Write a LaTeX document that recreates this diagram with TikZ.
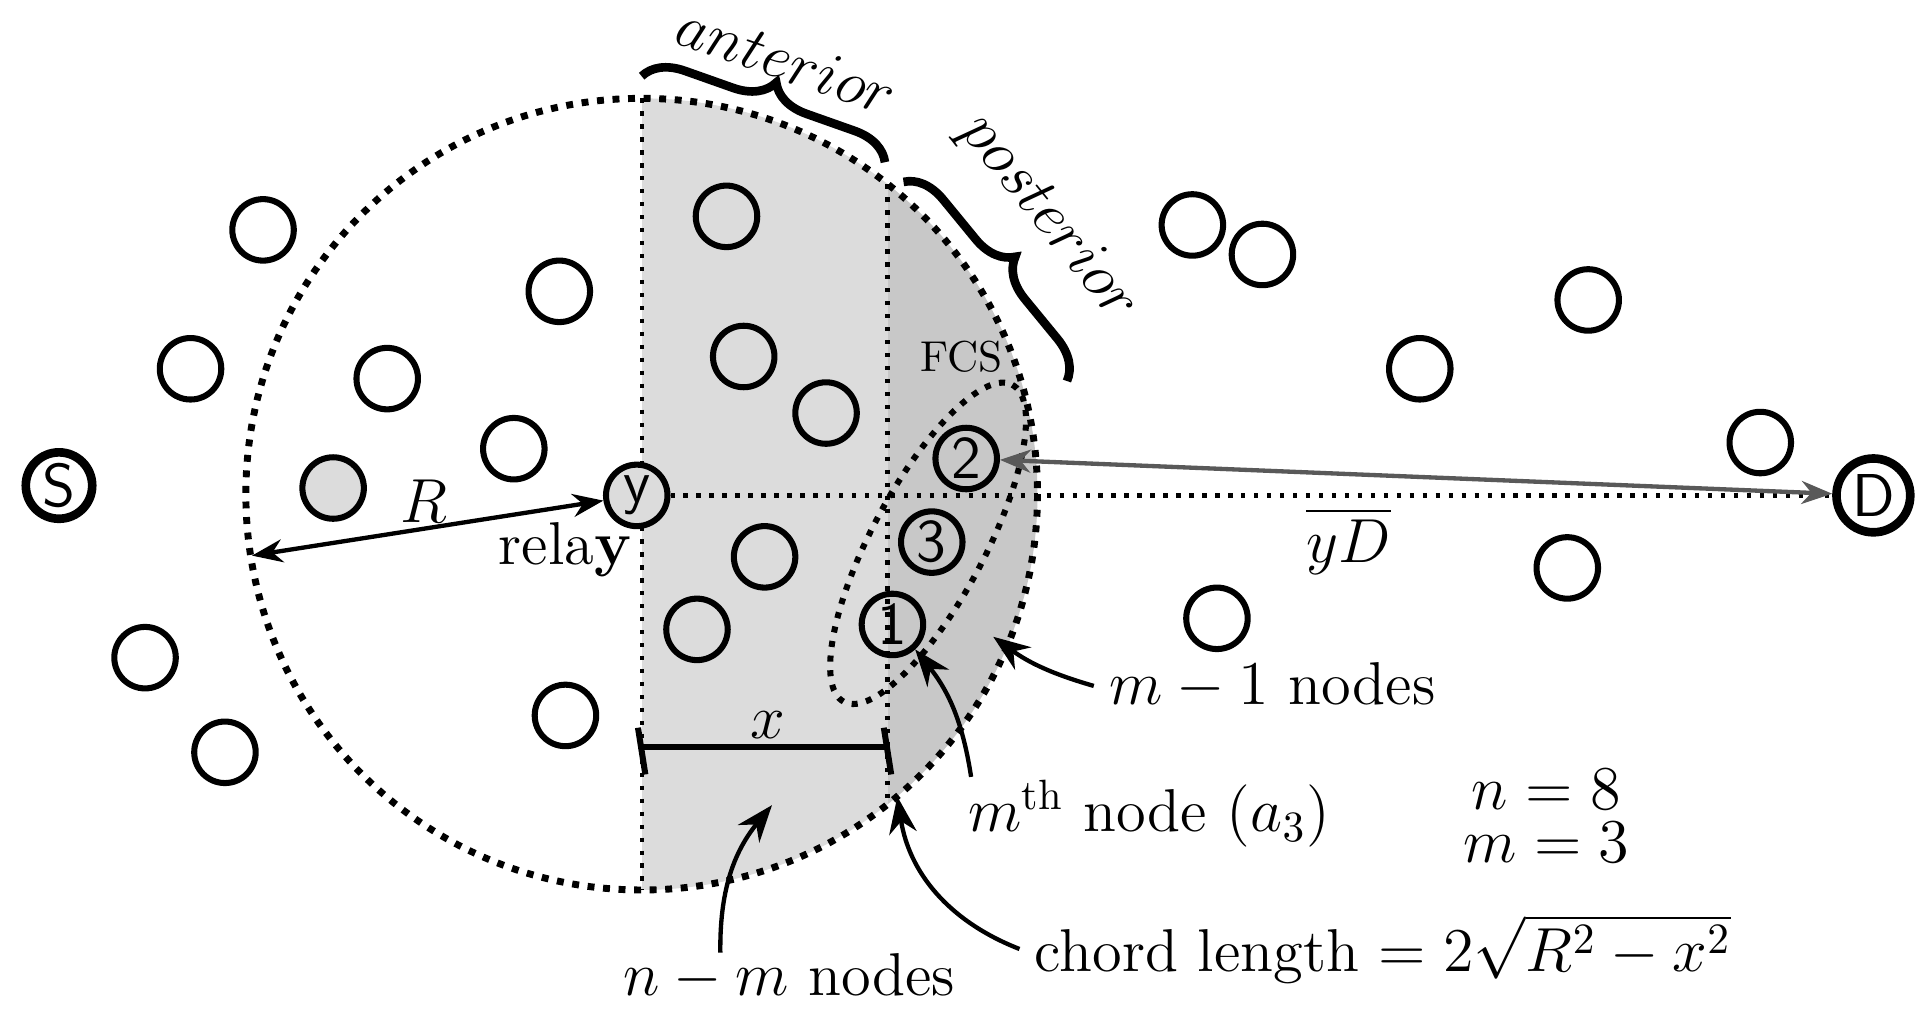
\documentclass[tikz,border=0pt]{standalone}
\usepackage{amsmath}
\usetikzlibrary{decorations.pathreplacing,arrows.meta}
\definecolor{antgray}{HTML}{DCDCDC}
\definecolor{postgray}{HTML}{C8C8C8}
\tikzset{
  nd/.style={draw, line width=1.4pt, circle, minimum size=0.5cm, inner sep=0pt, font=\sffamily\fontsize{14}{16}\selectfont},
  lbl/.style={font=\fontsize{14}{16}\selectfont},
  ann/.style={-{Stealth[length=3mm]}, line width=1pt},
  brc/.style={decorate, decoration={brace, amplitude=9pt}, line width=2pt}
}
\begin{document}
\begin{tikzpicture}[x=0.01cm,y=-0.01cm]
        \useasboundingbox (0,0) rectangle (1566,827);
        %shaded parts of the disc
        \begin{scope}
        \clip (522,402) circle (322);
        \fill[antgray] (522,60) rectangle (722,740);
        \fill[postgray] (722,60) rectangle (860,740);
        \end{scope}
        \draw[dotted, line width=1.6pt] (522,402) circle (322);
        \draw[dotted, line width=1pt] (522,80) -- (522,724);
        \draw[dotted, line width=1pt] (722,150) -- (722,654);

        %nodes outside
        \foreach \p in {(214,187),(155,300),(118,535),(183,612),(455,237),(315,308),(418,365),(460,582),
                        (591,176),(605,290),(672,336),(622,453),(567,512),
                        (970,183),(1027,207),(1292,244),(1155,300),(1432,360),(1275,462),(990,503)}
          \node[nd] at \p {};
        \node[nd, fill=antgray] (g) at (271,397) {};

        %source, destination, relay
        \node[nd, line width=2pt, minimum size=0.54cm] (S) at (48,395) {S};
        \node[nd, line width=2pt, minimum size=0.6cm] (D) at (1524,403) {D};
        \node[nd, fill=antgray] (y) at (518,403) {y};
        \node[lbl] (relay) at (460,447) {rela$\mathbf{y}$};

        %FCS
        \node[nd] (n2) at (786,373) {2};
        \node[nd] (n3) at (758,441) {3};
        \node[nd] (n1) at (726,508) {1};
        \draw[dotted, line width=1.4pt, rotate around={62:(755,442)}] (755,442) ellipse (146 and 46);
        \node[font=\fontsize{10}{12}\selectfont] (fcs) at (782,290) {FCS};

        \draw[dotted, line width=1pt] (y) -- (D);
        \draw[{Stealth[length=2.5mm]}-{Stealth[length=2.5mm]}, gray!70!black, line width=1pt] (n2) -- (D);
        \node[lbl] (yD) at (1097,440) {$\overline{yD}$};

        %radius
        \coordinate (rl) at (205,452);
        \draw[{Stealth[length=2.5mm]}-{Stealth[length=2.5mm]}, line width=1pt] (rl) -- (y);
        \node[lbl] (R) at (345,408) {$R$};

        %braces
        \coordinate (a1) at (522,62);
        \coordinate (a2) at (720,132);
        \draw[brc] (a1) -- (a2);
        \node[lbl, rotate=-19] (ant) at (640,49) {$anterior$};
        \coordinate (p1) at (735,148);
        \coordinate (p2) at (868,310);
        \draw[brc] (p1) -- (p2);
        \node[lbl, rotate=-51] (post) at (853,178) {$posterior$};

        %x
        \coordinate (x1) at (522,608);
        \coordinate (x2) at (722,608);
        \draw[line width=1.4pt] (x1) -- (x2);
        \draw[line width=1.4pt] (519,592) -- (525,630) (719,592) -- (725,630);
        \node[lbl] (x) at (625,590) {$x$};

        %annotations
        \node[lbl] (m1) at (1035,558) {$m-1$ nodes};
        \draw[ann] (m1.west) to[bend left=10] (808,518);
        \node[lbl] (mth) at (935,662) {$m^{\text{th}}$ node $(a_3)$};
        \draw[ann] (790,632) to[bend right=15] (n1);
        \node[lbl] (nm) at (642,795) {$n-m$ nodes};
        \draw[ann] (586,775) to[bend left=20] (628,655);
        \node[lbl] (chord) at (1125,772) {chord length $=2\sqrt{R^2-x^2}$};
        \draw[ann] (chord.west) to[bend left=30] (730,648);
        \node[lbl] (nn) at (1258,642) {$n=8$};
        \node[lbl] (mm) at (1258,685) {$m=3$};
    \end{tikzpicture}
\end{document}
